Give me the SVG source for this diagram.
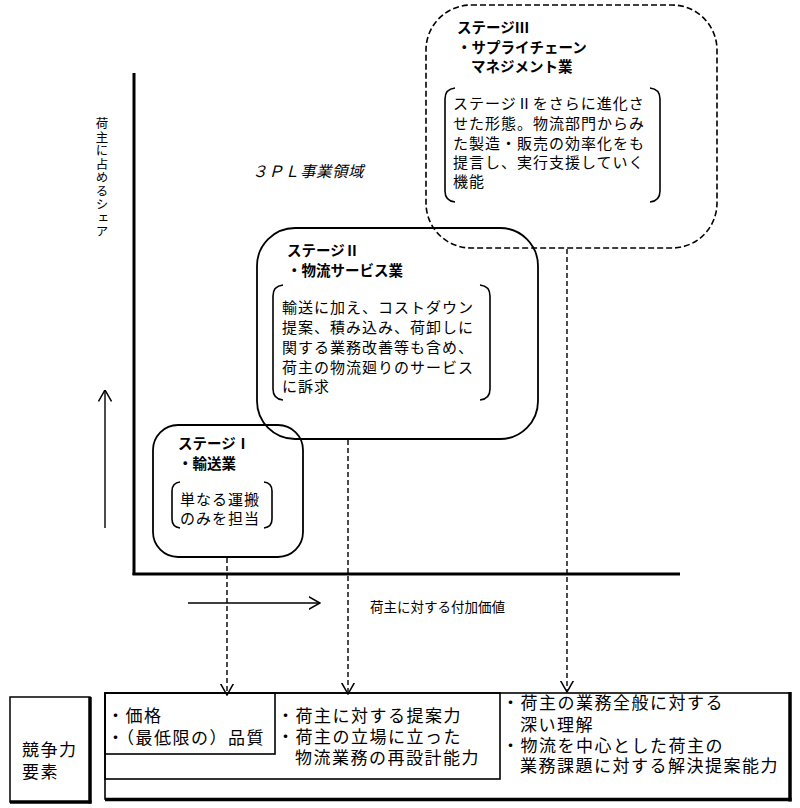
<svg xmlns="http://www.w3.org/2000/svg" width="800" height="808" viewBox="0 0 800 808">
<style>
.t{font-family:"Noto Sans CJK JP","Noto Sans",sans-serif;fill:#000}
.title{font-size:14.5px;font-weight:bold}
.body{font-size:15px;letter-spacing:1px}
.big{font-size:17px;letter-spacing:1.5px}
.box{fill:none;stroke:#000;stroke-width:1.8}
.br{fill:none;stroke:#000;stroke-width:1.6}
.dash{fill:none;stroke:#000;stroke-width:1.4;stroke-dasharray:5 3}
.ln{fill:none;stroke:#000;stroke-width:1.4}
</style>
<defs>
<marker id="v" viewBox="0 0 12 14" refX="11.5" refY="7" markerWidth="12" markerHeight="14" orient="auto" markerUnits="userSpaceOnUse">
<path d="M0,0.5 L11.5,7 L0,13.5" fill="none" stroke="#000" stroke-width="1.5"/>
</marker>
</defs>
<rect width="800" height="808" fill="#fff"/>

<g id="axes">
<line x1="134" y1="73" x2="134" y2="575" stroke="#000" stroke-width="3"/>
<line x1="132.5" y1="574" x2="680" y2="574" stroke="#000" stroke-width="3"/>
<line class="ln" x1="105" y1="528" x2="105" y2="390" marker-end="url(#v)"/>
<line class="ln" x1="188" y1="603" x2="320" y2="603" marker-end="url(#v)"/>
<text class="t" x="102" y="117" style="font-size:12.5px;writing-mode:vertical-rl;letter-spacing:1px">荷主に占めるシェア</text>
<text class="t" x="370" y="612" style="font-size:13.5px">荷主に対する付加価値</text>
<text x="252" y="177" style="font-family:'Liberation Serif','Noto Sans CJK JP',serif;font-style:italic;font-size:15.5px;letter-spacing:0.5px">３ＰＬ事業領域</text>
</g>

<g id="stage3">
<rect x="426" y="5" width="291" height="243" rx="45" ry="45" fill="none" stroke="#000" stroke-width="1.6" stroke-dasharray="6 3"/>
<text class="t title" x="457" y="33">ステージⅢ</text>
<text class="t title" x="457" y="53">・サプライチェーン</text>
<text class="t title" x="471" y="72">マネジメント業</text>
<path class="br" d="M455,88 Q445,89 445,99 L445,191 Q445,201 455,202"/>
<path class="br" d="M650,88 Q660,89 660,99 L660,191 Q660,201 650,202"/>
<text class="t body" x="453" y="109">ステージⅡをさらに進化さ</text>
<text class="t body" x="453" y="129">せた形態。物流部門からみ</text>
<text class="t body" x="453" y="149">た製造・販売の効率化をも</text>
<text class="t body" x="453" y="168">提言し、実行支援していく</text>
<text class="t body" x="453" y="187">機能</text>
</g>

<g id="stage2">
<rect class="box" x="257" y="228" width="281" height="211" rx="38" ry="38"/>
<text class="t title" x="287" y="256">ステージⅡ</text>
<text class="t title" x="287" y="276">・物流サービス業</text>
<path class="br" d="M283,285 Q273,286 273,296 L273,389 Q273,399 283,400"/>
<path class="br" d="M480,285 Q490,286 490,296 L490,389 Q490,399 480,400"/>
<text class="t body" x="282" y="313">輸送に加え、コストダウン</text>
<text class="t body" x="282" y="333">提案、積み込み、荷卸しに</text>
<text class="t body" x="282" y="353">関する業務改善等も含め、</text>
<text class="t body" x="282" y="373">荷主の物流廻りのサービス</text>
<text class="t body" x="282" y="392">に訴求</text>
</g>

<g id="stage1">
<rect class="box" x="153" y="425" width="150" height="132" rx="25" ry="25"/>
<text class="t title" x="178" y="449">ステージⅠ</text>
<text class="t title" x="178" y="469">・輸送業</text>
<path class="br" d="M180,482 Q172,483 172,491 L172,519 Q172,527 180,528"/>
<path class="br" d="M264,482 Q272,483 272,491 L272,519 Q272,527 264,528"/>
<text class="t body" x="180" y="505">単なる運搬</text>
<text class="t body" x="180" y="524">のみを担当</text>
</g>

<g id="connectors">
<line class="dash" x1="227" y1="558" x2="227" y2="695" marker-end="url(#v)"/>
<line class="dash" x1="348" y1="440" x2="348" y2="694" marker-end="url(#v)"/>
<line class="dash" x1="567" y1="249" x2="567" y2="692" marker-end="url(#v)"/>
</g>

<g id="label-box">
<rect x="10" y="697" width="80" height="105" fill="none" stroke="#000" stroke-width="1.5"/>
<line x1="90" y1="697" x2="90" y2="803.5" stroke="#000" stroke-width="3.5"/>
<line x1="10" y1="802" x2="91.5" y2="802" stroke="#000" stroke-width="3.5"/>
<text class="t big" x="22" y="756">競争力</text>
<text class="t big" x="22" y="778">要素</text>
</g>

<g id="elements">
<rect x="105" y="693" width="685" height="106" fill="none" stroke="#000" stroke-width="1.6"/>
<line x1="790" y1="692" x2="790" y2="801.5" stroke="#000" stroke-width="3.5"/>
<line x1="105" y1="799.5" x2="791.5" y2="799.5" stroke="#000" stroke-width="3.5"/>
<rect x="105" y="693" width="395" height="86" fill="none" stroke="#000" stroke-width="1.6"/>
<rect x="105" y="693" width="170" height="61" fill="none" stroke="#000" stroke-width="1.6"/>
<text class="t big" x="107" y="722">・価格</text>
<text class="t big" x="107" y="744">・（最低限の）品質</text>
<text class="t big" x="277" y="722">・荷主に対する提案力</text>
<text class="t big" x="277" y="743">・荷主の立場に立った</text>
<text class="t big" x="295" y="764">物流業務の再設計能力</text>
<text class="t big" x="502" y="709">・荷主の業務全般に対する</text>
<text class="t big" x="520" y="731">深い理解</text>
<text class="t big" x="502" y="752">・物流を中心とした荷主の</text>
<text class="t big" x="520" y="772">業務課題に対する解決提案能力</text>
</g>
</svg>
